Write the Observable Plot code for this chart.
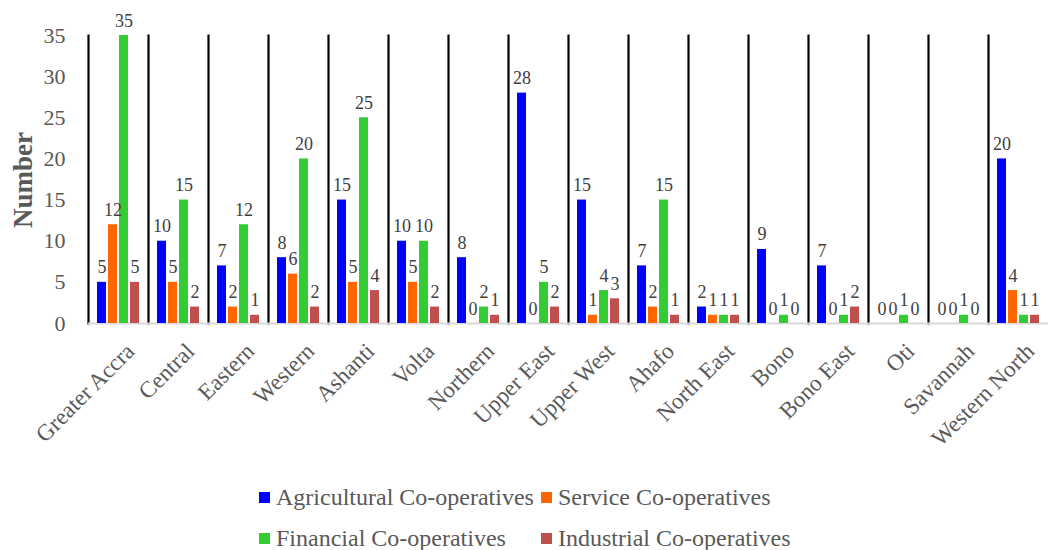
<!DOCTYPE html>
<html><head><meta charset="utf-8">
<script src="https://cdn.jsdelivr.net/npm/d3@7"></script>
<script src="https://cdn.jsdelivr.net/npm/@observablehq/plot@0.6"></script>
<style>
body{margin:0;background:#fff;font-family:'Liberation Serif',serif;}
svg, svg text{font-family:'Liberation Serif',serif !important;}
#wrap{position:relative;width:1056px;height:550px;}
#ylabel{position:absolute;left:23px;top:180px;transform:translate(-50%,-50%) rotate(-90deg);font-family:'Liberation Serif',serif;font-weight:bold;font-size:27px;color:#595959;white-space:nowrap;}
#legend{position:absolute;left:259px;top:483px;display:grid;grid-template-columns:282px auto;row-gap:13px;font-family:'Liberation Serif',serif;font-size:24px;color:#595959;}
.item{display:flex;align-items:center;line-height:28px;}
.sw{width:11px;height:11px;margin-right:6px;display:inline-block;}
</style></head><body><div id="wrap"><div id="chart"></div><div id="ylabel">Number</div><div id="legend"></div></div>
<script>
const regions = ["Greater Accra","Central","Eastern","Western","Ashanti","Volta","Northern","Upper East","Upper West","Ahafo","North East","Bono","Bono East","Oti","Savannah","Western North"];
const series = ["Agricultural Co-operatives","Service Co-operatives","Financial Co-operatives","Industrial Co-operatives"];
const agricultural = [5,10,7,8,15,10,8,28,15,7,2,9,7,0,0,20];
const service      = [12,5,2,6,5,5,0,0,1,2,1,0,0,0,0,4];
const financial    = [35,15,12,20,25,10,2,5,4,15,1,1,1,1,1,1];
const industrial   = [5,2,1,2,4,2,1,2,3,1,1,0,2,0,0,1];
const colors = ["#0000FF","#FF6600","#33CC33","#C0504D"];
const yTicks = [0,5,10,15,20,25,30,35];

const valuesBySeries = [agricultural, service, financial, industrial];
const data = [];
regions.forEach((r, i) => series.forEach((s, j) => data.push({region: r, series: s, value: valuesBySeries[j][i]})));

const chart = Plot.plot({
  width: 1056, height: 470,
  marginLeft: 88, marginRight: 8, marginTop: 35, marginBottom: 147,
  style: {fontFamily: "'Liberation Serif', serif", fontSize: "22px", color: "#595959", background: "white"},
  fx: {domain: regions, padding: 0, label: null},
  x: {domain: series, axis: null, paddingInner: 0.21, paddingOuter: 0.83},
  y: {domain: [0, 35], ticks: yTicks, tickSize: 0, tickPadding: 23, label: null},
  color: {domain: series, range: colors},
  marks: [
    Plot.axisFx({anchor: "bottom", tickSize: 0, tickRotate: -45, tickPadding: 14, dx: 12, dy: 10, fontSize: 23, label: null}),
    Plot.frame({anchor: "left", stroke: "black", strokeWidth: 2.2}),
    Plot.ruleY([0], {stroke: "#d9d9d9", strokeWidth: 2}),
    Plot.barY(data, {fx: "region", x: "series", y: "value", fill: "series"}),
    Plot.text(data, {fx: "region", x: "series", y: "value", text: d => String(d.value), dy: -9, lineAnchor: "bottom", fontSize: 18, fontFamily: "'Liberation Serif', serif", fill: "#404040"})
  ]
});
document.getElementById("chart").appendChild(chart);

const legend = document.getElementById("legend");
series.forEach((s, j) => {
  const it = document.createElement("div");
  it.className = "item";
  it.innerHTML = `<span class="sw" style="background:${colors[j]}"></span><span>${s}</span>`;
  legend.appendChild(it);
});
</script></body></html>
